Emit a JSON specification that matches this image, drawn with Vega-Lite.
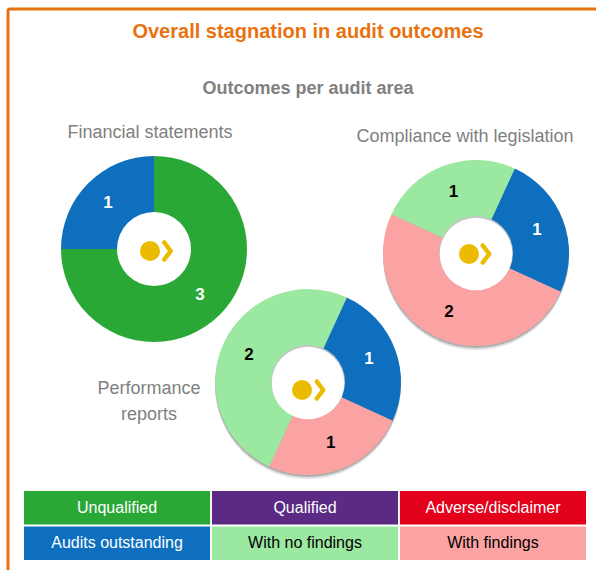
{
"$schema":"https://vega.github.io/schema/vega-lite/v6.json",
"width":600,"height":575,"autosize":"none","padding":{"left":8,"top":9,"right":0,"bottom":0},
"background":"white",
"view":{"stroke":"#E8720F","strokeWidth":3,"cornerRadius":2,"fill":"white"},
"title":{"text":"Overall stagnation  in audit outcomes","subtitle":"Outcomes per audit area","anchor":"start","align":"center","dx":300,"offset":-89,"font":"Liberation Sans","fontSize":20,"fontWeight":"bold","color":"#E8720F","subtitleFont":"Liberation Sans","subtitleFontSize":18,"subtitleFontWeight":"bold","subtitleColor":"#808080","subtitlePadding":38},
"config":{"text":{"font":"Liberation Sans"}},
"datasets":{
"outcomes":[
{"area":"Financial statements","category":"Unqualified","count":3},
{"area":"Financial statements","category":"Audits outstanding","count":1},
{"area":"Compliance with legislation","category":"Audits outstanding","count":1},
{"area":"Compliance with legislation","category":"With findings","count":2},
{"area":"Compliance with legislation","category":"With no findings","count":1},
{"area":"Performance reports","category":"Audits outstanding","count":1},
{"area":"Performance reports","category":"With findings","count":1},
{"area":"Performance reports","category":"With no findings","count":2}],
"areas":[{"area":"Financial statements"},{"area":"Compliance with legislation"},{"area":"Performance reports"}],
"key":[
{"category":"Unqualified","col":"A","row":"Opinion"},
{"category":"Qualified","col":"B","row":"Opinion"},
{"category":"Adverse/disclaimer","col":"C","row":"Opinion"},
{"category":"Audits outstanding","col":"A","row":"Findings"},
{"category":"With no findings","col":"B","row":"Findings"},
{"category":"With findings","col":"C","row":"Findings"}]
},
"layer":[
{"data":{"name":"areas"},"transform":[{"filter":"datum.area!=='Financial statements'"}],
 "mark":{"type":"point","filled":true,"size":34596,"opacity":0.12,"color":"#000000"},
 "encoding":{
  "x":{"field":"area","type":"nominal","axis":null,"scale":{"type":"point","domain":["Compliance with legislation","Performance reports"],"range":[468,300],"padding":0}},
  "y":{"field":"area","type":"nominal","axis":null,"scale":{"type":"point","domain":["Compliance with legislation","Performance reports"],"range":[248,377],"padding":0}}}},
{"data":{"name":"areas"},"transform":[{"filter":"datum.area!=='Financial statements'"}],
 "mark":{"type":"point","filled":true,"size":34596,"opacity":0.22,"color":"#000000"},
 "encoding":{
  "x":{"field":"area","type":"nominal","axis":null,"scale":{"type":"point","domain":["Compliance with legislation","Performance reports"],"range":[468,300],"padding":0}},
  "y":{"field":"area","type":"nominal","axis":null,"scale":{"type":"point","domain":["Compliance with legislation","Performance reports"],"range":[246,375],"padding":0}}}},
{"data":{"name":"outcomes"},
 "transform":[{"filter":"datum.area==='Financial statements'"},{"stack":"count","groupby":["area"],"sort":[{"field":"category"}],"offset":"normalize","as":["s0","s1"]}],
 "mark":{"type":"arc","innerRadius":37,"outerRadius":93},
 "encoding":{
  "x":{"field":"area","type":"nominal","axis":null,"scale":{"type":"point","domain":["Financial statements"],"range":[146,146],"padding":0}},
  "y":{"field":"area","type":"nominal","axis":null,"scale":{"type":"point","domain":["Financial statements"],"range":[240,240],"padding":0}},
  "theta":{"field":"s0","type":"quantitative","scale":{"domain":[0,1],"range":[-1.5708,4.7124]}},"theta2":{"field":"s1"},
  "color":{"field":"category","type":"nominal","legend":null,"scale":{"domain":["Unqualified","Qualified","Adverse/disclaimer","Audits outstanding","With no findings","With findings"],"range":["#2AA836","#5B2A85","#E2001A","#0D6FBE","#9BE8A0","#FBA3A3"]}}}},
{"data":{"name":"outcomes"},
 "transform":[{"filter":"datum.area!=='Financial statements'"},{"stack":"count","groupby":["area"],"sort":[{"field":"category"}],"offset":"normalize","as":["s0","s1"]}],
 "mark":{"type":"arc","innerRadius":0,"outerRadius":93},
 "encoding":{
  "x":{"field":"area","type":"nominal","axis":null,"scale":{"type":"point","domain":["Compliance with legislation","Performance reports"],"range":[468,300],"padding":0}},
  "y":{"field":"area","type":"nominal","axis":null,"scale":{"type":"point","domain":["Compliance with legislation","Performance reports"],"range":[244,373],"padding":0}},
  "theta":{"field":"s0","type":"quantitative","scale":{"domain":[0,1],"range":[0.43,6.713]}},"theta2":{"field":"s1"},
  "color":{"field":"category","type":"nominal","legend":null}}},
{"data":{"name":"areas"},"transform":[{"filter":"datum.area!=='Financial statements'"}],
 "mark":{"type":"point","filled":true,"size":5476,"opacity":1,"color":"#C4C4C4"},
 "encoding":{
  "x":{"field":"area","type":"nominal","axis":null,"scale":{"type":"point","domain":["Compliance with legislation","Performance reports"],"range":[468,300],"padding":0}},
  "y":{"field":"area","type":"nominal","axis":null,"scale":{"type":"point","domain":["Compliance with legislation","Performance reports"],"range":[244,373],"padding":0}}}},
{"data":{"name":"areas"},"transform":[{"filter":"datum.area!=='Financial statements'"}],
 "mark":{"type":"point","filled":true,"size":5260,"opacity":1,"color":"#FFFFFF"},
 "encoding":{
  "x":{"field":"area","type":"nominal","axis":null,"scale":{"type":"point","domain":["Compliance with legislation","Performance reports"],"range":[468,300],"padding":0}},
  "y":{"field":"area","type":"nominal","axis":null,"scale":{"type":"point","domain":["Compliance with legislation","Performance reports"],"range":[245,374],"padding":0}}}},
{"data":{"name":"outcomes"},
 "transform":[{"filter":"datum.area==='Financial statements'"},{"stack":"count","groupby":["area"],"sort":[{"field":"category"}],"offset":"normalize","as":["s0","s1"]},{"calculate":"(datum.s0+datum.s1)/2","as":"mid"}],
 "mark":{"type":"text","radius":65,"fontSize":17,"fontWeight":"bold"},
 "encoding":{
  "x":{"field":"area","type":"nominal","axis":null,"scale":{"type":"point","domain":["Financial statements"],"range":[146,146],"padding":0}},
  "y":{"field":"area","type":"nominal","axis":null,"scale":{"type":"point","domain":["Financial statements"],"range":[240,240],"padding":0}},
  "theta":{"field":"mid","type":"quantitative","scale":{"domain":[0,1],"range":[-1.5708,4.7124]}},
  "text":{"field":"count","type":"quantitative"},"color":{"value":"white"}}},
{"data":{"name":"outcomes"},
 "transform":[{"filter":"datum.area!=='Financial statements'"},{"stack":"count","groupby":["area"],"sort":[{"field":"category"}],"offset":"normalize","as":["s0","s1"]},{"calculate":"(datum.s0+datum.s1)/2","as":"mid"}],
 "mark":{"type":"text","radius":65,"fontSize":17,"fontWeight":"bold"},
 "encoding":{
  "x":{"field":"area","type":"nominal","axis":null,"scale":{"type":"point","domain":["Compliance with legislation","Performance reports"],"range":[468,300],"padding":0}},
  "y":{"field":"area","type":"nominal","axis":null,"scale":{"type":"point","domain":["Compliance with legislation","Performance reports"],"range":[244,373],"padding":0}},
  "theta":{"field":"mid","type":"quantitative","scale":{"domain":[0,1],"range":[0.43,6.713]}},
  "text":{"field":"count","type":"quantitative"},
  "color":{"condition":{"test":"datum.category==='Audits outstanding'","value":"white"},"value":"black"}}},
{"data":{"name":"key"},
 "mark":{"type":"rect"},
 "encoding":{
  "x":{"field":"col","type":"nominal","axis":null,"scale":{"type":"band","domain":["A","B","C"],"range":[16,578],"paddingInner":0.01,"paddingOuter":0}},
  "y":{"field":"row","type":"nominal","axis":null,"scale":{"type":"band","domain":["Opinion","Findings"],"range":[482,551],"paddingInner":0.05,"paddingOuter":0}},
  "color":{"field":"category","type":"nominal","legend":null}}},
{"data":{"name":"key"},
 "mark":{"type":"text","fontSize":16,"baseline":"middle"},
 "encoding":{
  "x":{"field":"col","type":"nominal","axis":null,"scale":{"type":"band","domain":["A","B","C"],"range":[16,578],"paddingInner":0.01,"paddingOuter":0}},
  "y":{"field":"row","type":"nominal","axis":null,"scale":{"type":"band","domain":["Opinion","Findings"],"range":[482,551],"paddingInner":0.05,"paddingOuter":0}},
  "text":{"field":"category"},
  "color":{"condition":{"test":"datum.category==='With no findings'||datum.category==='With findings'","value":"black"},"value":"white"}}},
{"data":{"name":"areas"},"transform":[{"filter":"datum.area==='Financial statements'"}],
 "mark":{"type":"text","fontSize":18,"dx":-4,"dy":-116,"color":"#808080"},
 "encoding":{
  "x":{"field":"area","type":"nominal","axis":null,"scale":{"type":"point","domain":["Financial statements"],"range":[146,146],"padding":0}},
  "y":{"field":"area","type":"nominal","axis":null,"scale":{"type":"point","domain":["Financial statements"],"range":[240,240],"padding":0}},
  "text":{"field":"area"}}},
{"data":{"name":"areas"},"transform":[{"filter":"datum.area==='Compliance with legislation'"}],
 "mark":{"type":"text","fontSize":18,"dx":-11,"dy":-116,"color":"#808080"},
 "encoding":{
  "x":{"field":"area","type":"nominal","axis":null,"scale":{"type":"point","domain":["Compliance with legislation","Performance reports"],"range":[468,300],"padding":0}},
  "y":{"field":"area","type":"nominal","axis":null,"scale":{"type":"point","domain":["Compliance with legislation","Performance reports"],"range":[244,373],"padding":0}},
  "text":{"field":"area"}}},
{"data":{"name":"areas"},"transform":[{"filter":"datum.area==='Performance reports'"}],
 "mark":{"type":"text","fontSize":18,"dx":-159,"dy":7,"lineBreak":" ","lineHeight":26,"color":"#808080"},
 "encoding":{
  "x":{"field":"area","type":"nominal","axis":null,"scale":{"type":"point","domain":["Compliance with legislation","Performance reports"],"range":[468,300],"padding":0}},
  "y":{"field":"area","type":"nominal","axis":null,"scale":{"type":"point","domain":["Compliance with legislation","Performance reports"],"range":[244,373],"padding":0}},
  "text":{"field":"area"}}},
{"data":{"name":"areas"},"transform":[{"filter":"datum.area==='Financial statements'"}],
 "mark":{"type":"point","filled":true,"size":400,"opacity":1,"color":"#EBBB00"},
 "encoding":{
  "x":{"field":"area","type":"nominal","axis":null,"scale":{"type":"point","domain":["Financial statements"],"range":[142,142],"padding":0}},
  "y":{"field":"area","type":"nominal","axis":null,"scale":{"type":"point","domain":["Financial statements"],"range":[242,242],"padding":0}}}},
{"data":{"name":"areas"},"transform":[{"filter":"datum.area==='Financial statements'"}],
 "mark":{"type":"point","shape":"M -0.38 -1 L 0.38 0 L -0.38 1","filled":false,"size":289,"opacity":1,"stroke":"#EBBB00","strokeWidth":4.5,"strokeCap":"round","strokeJoin":"round"},
 "encoding":{
  "x":{"field":"area","type":"nominal","axis":null,"scale":{"type":"point","domain":["Financial statements"],"range":[159.5,159.5],"padding":0}},
  "y":{"field":"area","type":"nominal","axis":null,"scale":{"type":"point","domain":["Financial statements"],"range":[242,242],"padding":0}}}},
{"data":{"name":"areas"},"transform":[{"filter":"datum.area!=='Financial statements'"}],
 "mark":{"type":"point","filled":true,"size":400,"opacity":1,"color":"#EBBB00"},
 "encoding":{
  "x":{"field":"area","type":"nominal","axis":null,"scale":{"type":"point","domain":["Compliance with legislation","Performance reports"],"range":[461,294],"padding":0}},
  "y":{"field":"area","type":"nominal","axis":null,"scale":{"type":"point","domain":["Compliance with legislation","Performance reports"],"range":[245,381],"padding":0}}}},
{"data":{"name":"areas"},"transform":[{"filter":"datum.area!=='Financial statements'"}],
 "mark":{"type":"point","shape":"M -0.38 -1 L 0.38 0 L -0.38 1","filled":false,"size":289,"opacity":1,"stroke":"#EBBB00","strokeWidth":4.5,"strokeCap":"round","strokeJoin":"round"},
 "encoding":{
  "x":{"field":"area","type":"nominal","axis":null,"scale":{"type":"point","domain":["Compliance with legislation","Performance reports"],"range":[478,312],"padding":0}},
  "y":{"field":"area","type":"nominal","axis":null,"scale":{"type":"point","domain":["Compliance with legislation","Performance reports"],"range":[245,381],"padding":0}}}}
],
"resolve":{"scale":{"x":"independent","y":"independent","theta":"independent"}}
}
